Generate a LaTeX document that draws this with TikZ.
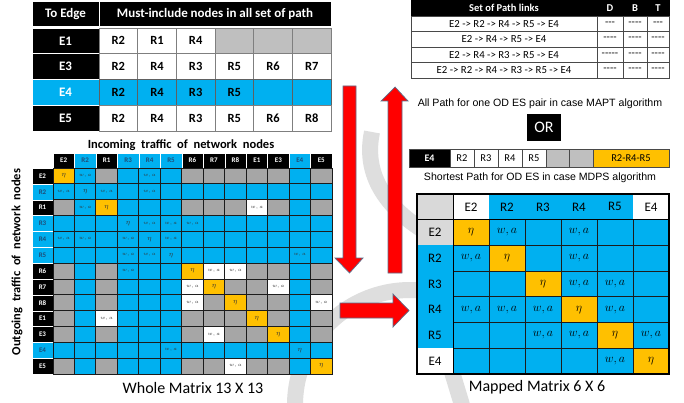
\documentclass[tikz,border=0pt]{standalone}
\usepackage{fontspec}
\setmainfont{Carlito}
\newfontfamily\arialf{Liberation Sans}
\definecolor{cblue}{HTML}{00B0F0}
\definecolor{cyel}{HTML}{FFC000}
\definecolor{cgray}{HTML}{A6A6A6}
\definecolor{lgray}{HTML}{BFBFBF}
\definecolor{pgray}{HTML}{D9D9D9}
\definecolor{wmark}{HTML}{DEDEDE}
\definecolor{gridc}{HTML}{1C1C1C}
\definecolor{hblue}{HTML}{1F4E79}
\definecolor{arrowedge}{HTML}{5B6F8C}
\definecolor{tline}{HTML}{7F7F7F}
\newcommand\setfs[1]{\fontsize{#1}{#1}\selectfont}
% cell contents of the 13 x 13 matrix, by code letter
\newcommand\wtg{}
\newcommand\wtb{}
\newcommand\wty{\setfs{7}$\eta$}
\newcommand\wte{\setfs{7}$\eta$}
\newcommand\wtW{$w, a$}
\newcommand\wtB{$w, a$}
% cell contents of the 6 x 6 matrix
\newcommand\mtb{}
\newcommand\mty{\setfs{13}$\eta$}
\newcommand\mtB{$w, a$}
\tikzset{
  boxbase/.style={rectangle, inner sep=0pt, outer sep=0pt},
  tlhead/.style={boxbase, fill=black, text=white, font=\bfseries\setfs{13}, draw=white, line width=0.8pt, minimum height=25.75pt},
  tlcell/.style={boxbase, draw=tline, line width=0.7pt, minimum width=38.67pt, minimum height=25.75pt, font=\bfseries\setfs{12.5}},
  wcell/.style={boxbase, draw=gridc, line width=0.9pt, minimum width=21.46pt, minimum height=15.85pt, font=\setfs{4.6}, text=black!80},
  wg/.style={fill=cgray}, wb/.style={fill=cblue}, wy/.style={fill=cyel},
  we/.style={fill=cblue}, wW/.style={fill=white}, wB/.style={fill=cblue},
  whead/.style={boxbase, font=\bfseries\setfs{7}, draw=white, line width=0.3pt},
  whk/.style={fill=black, text=white}, whu/.style={fill=cblue, text=hblue},
  rtcell/.style={boxbase, draw=gridc!80, line width=0.6pt, minimum height=15.5pt, font=\setfs{10.8}},
  rthead/.style={boxbase, fill=black, text=white, draw=black, minimum height=16pt, font=\bfseries\setfs{10.5}},
  barcell/.style={boxbase, draw=gridc!80, line width=0.6pt, minimum height=18pt, font=\setfs{10.5}},
  mcell/.style={boxbase, draw=gridc, line width=0.9pt, minimum width=36pt, minimum height=25.71pt, fill=cblue, font=\setfs{11.5}},
  mb/.style={}, my/.style={fill=cyel}, mB/.style={},
  mlab/.style={boxbase, minimum width=36pt, minimum height=25.71pt, font=\setfs{13}},
  capt/.style={inner sep=0pt, font=\arialf\setfs{10.6}},
  bigcapt/.style={inner sep=0pt, font=\setfs{16}},
  blockarrow/.style={fill=red, draw=arrowedge, line width=0.7pt, line join=miter},
  wmstroke/.style={draw=wmark, line width=16pt}
}
\begin{document}
\begin{tikzpicture}[x=1pt,y=-1pt]
\useasboundingbox (0,0) rectangle (684,403);
\fill[white] (0,0) rectangle (684,403);

% faint background emblem
\draw[wmstroke] (295,405) arc[start angle=180, end angle=275, radius=115];
\draw[wmstroke] (372,132) .. controls (362,180) and (392,215) .. (440,240);
\draw[wmstroke] (452,372) -- (462,405);

% ---------- table: edges and their must-include nodes ----------
\node[tlhead, minimum width=67pt] (th-edge) at (65.5,14) {To Edge};
\node[tlhead, minimum width=232pt] (th-must) at (215,14) {Must-include nodes in all set of path};
\node[tlhead, minimum width=67pt] (tl-r1) at (65.5,40.875) {E1};
\node[tlhead, minimum width=67pt] (tl-r2) at (65.5,66.625) {E3};
\node[tlhead, minimum width=67pt, fill=cblue] (tl-r3) at (65.5,92.375) {E4};
\node[tlhead, minimum width=67pt] (tl-r4) at (65.5,118.125) {E5};
\foreach \f/\t [count=\j] in {white/R2,white/R1,white/R4,lgray/{},lgray/{},lgray/{}}
  \node[tlcell, fill=\f] (tl-1-\j) at ({99+38.67*(\j-0.5)},40.875) {\t};
\foreach \f/\t [count=\j] in {white/R2,white/R4,white/R3,white/R5,white/R6,white/R7}
  \node[tlcell, fill=\f] (tl-2-\j) at ({99+38.67*(\j-0.5)},66.625) {\t};
\foreach \f/\t [count=\j] in {cblue/R2,cblue/R4,cblue/R3,cblue/R5,cblue/{},cblue/{}}
  \node[tlcell, fill=\f, draw=gridc!70] (tl-3-\j) at ({99+38.67*(\j-0.5)},92.375) {\t};
\foreach \f/\t [count=\j] in {white/R2,white/R4,white/R3,white/R5,white/R6,white/R8}
  \node[tlcell, fill=\f] (tl-4-\j) at ({99+38.67*(\j-0.5)},118.125) {\t};

% ---------- whole 13 x 13 matrix ----------
\node[font=\bfseries\setfs{12.5}, inner sep=0pt] (intitle) at (181,145) {Incoming~ traffic~ of~ network~ nodes};
\node[font=\bfseries\setfs{12.5}, inner sep=0pt, rotate=90] (outtitle) at (17,262) {Outgoing~ traffic~ of~ network~ nodes};
\foreach \lab/\hc [count=\j] in {E2/k,R2/u,R1/k,R3/u,R4/u,R5/u,R6/k,R7/k,R8/k,E1/k,E3/k,E4/u,E5/k} {
  \node[whead, wh\hc, minimum width=21.46pt, minimum height=15pt] (wc-\j) at ({53+21.46*(\j-0.5)},160.5) {\lab};
  \node[whead, wh\hc, minimum width=21pt, minimum height=15.85pt] (wr-\j) at (42.5,{168+15.85*(\j-0.5)}) {\lab};
}
\foreach \row [count=\i] in {%
{y,B,g,b,B,b,g,g,g,g,g,b,g},%
{B,e,B,b,B,b,b,b,b,b,b,b,b},%
{g,B,y,b,b,b,g,g,g,W,g,b,g},%
{b,b,b,e,B,B,B,b,b,b,b,b,b},%
{B,B,b,B,e,B,b,b,b,b,b,b,b},%
{b,b,b,B,B,e,b,b,b,b,b,B,b},%
{g,b,g,B,b,b,y,W,W,g,g,b,g},%
{g,b,g,b,b,b,W,y,g,g,W,b,g},%
{g,b,g,b,b,b,W,g,y,g,g,b,W},%
{g,b,W,b,b,b,g,g,g,y,g,b,g},%
{g,b,g,b,b,b,g,W,g,g,y,b,g},%
{b,b,b,b,b,B,b,b,b,b,b,e,b},%
{g,b,g,b,b,b,g,g,W,g,g,b,y}%
} {
  \foreach \c [count=\j] in \row {
    \node[wcell, w\c] (wm-\i-\j) at ({53+21.46*(\j-0.5)},{168+15.85*(\i-0.5)}) {\csname wt\c\endcsname};
  }
}
\node[bigcapt] (wholecap) at (193,388) {Whole Matrix 13 X 13};

% ---------- path table (MAPT) ----------
\node[rthead, minimum width=186pt] (rt-h1) at (504,8) {Set of Path links};
\node[rthead, minimum width=26pt] (rt-h2) at (610,8) {D};
\node[rthead, minimum width=24pt] (rt-h3) at (635,8) {B};
\node[rthead, minimum width=22pt] (rt-h4) at (658,8) {T};
\foreach \p/\d/\b/\t [count=\i] in {%
E2 -> R2 -> R4 -> R5 -> E4/{-}{-}{-}/{-}{-}{-}{-}/{-}{-}{-},%
E2 -> R4 -> R5 -> E4/{-}{-}{-}{-}/{-}{-}{-}{-}/{-}{-}{-}{-},%
E2 -> R4 -> R3 -> R5 -> E4/{-}{-}{-}{-}{-}/{-}{-}{-}{-}/{-}{-}{-}{-},%
E2 -> R2 -> R4 -> R3 -> R5 -> E4/{-}{-}{-}{-}/{-}{-}{-}{-}/{-}{-}{-}{-}%
} {
  \node[rtcell, minimum width=186pt] (rt-\i-1) at (504,{16+15.5*(\i-0.5)}) {\p};
  \node[rtcell, minimum width=26pt] (rt-\i-2) at (610,{16+15.5*(\i-0.5)}) {\d};
  \node[rtcell, minimum width=24pt] (rt-\i-3) at (635,{16+15.5*(\i-0.5)}) {\b};
  \node[rtcell, minimum width=22pt] (rt-\i-4) at (658,{16+15.5*(\i-0.5)}) {\t};
}
\node[capt] (maptcap) at (540,104) {All Path for one OD ES pair in case MAPT algorithm};
\node[boxbase, fill=black, text=white, minimum width=34pt, minimum height=27pt, font=\setfs{16}] (orbox) at (544,127.5) {OR};

% ---------- shortest path bar (MDPS) ----------
\node[barcell, fill=black, text=white, minimum width=41pt, font=\bfseries\setfs{10}] (bar-1) at (429.5,158) {E4};
\node[barcell, fill=white, minimum width=24pt] (bar-2) at (462,158) {R2};
\node[barcell, fill=white, minimum width=24pt] (bar-3) at (486,158) {R3};
\node[barcell, fill=white, minimum width=24pt] (bar-4) at (510,158) {R4};
\node[barcell, fill=white, minimum width=24pt] (bar-5) at (534,158) {R5};
\node[barcell, fill=lgray, minimum width=23pt] (bar-6) at (557.5,158) {};
\node[barcell, fill=lgray, minimum width=24pt] (bar-7) at (581,158) {};
\node[barcell, fill=cyel, minimum width=76pt] (bar-8) at (631,158) {R2-R4-R5};
\node[capt] (mdpscap) at (540,178) {Shortest Path for OD ES in case MDPS algorithm};

% ---------- mapped 6 x 6 matrix ----------
\node[mlab, fill=pgray] (mp-corner) at (435,206.86) {};
\foreach \lab/\f [count=\j] in {E2/white,R2/cblue,R3/cblue,R4/cblue,R5/cblue,E4/white} {
  \node[mlab, fill=\f] (mc-\j) at ({453+36*(\j-0.5)},206.86) {\lab};
}
\foreach \lab/\f [count=\i] in {E2/pgray,R2/cblue,R3/cblue,R4/cblue,R5/cblue,E4/white} {
  \node[mlab, fill=\f] (mr-\i) at (435,{219.71+25.71*(\i-0.5)}) {\lab};
}
\foreach \row [count=\i] in {%
{y,B,b,B,b,b},%
{B,y,b,B,b,b},%
{b,b,y,B,B,b},%
{B,B,B,y,B,b},%
{b,b,B,B,y,B},%
{b,b,b,b,B,y}%
} {
  \foreach \c [count=\j] in \row {
    \node[mcell, m\c] (mm-\i-\j) at ({453+36*(\j-0.5)},{219.71+25.71*(\i-0.5)}) {\csname mt\c\endcsname};
  }
}
\draw[black, line width=1pt] (mp-corner.north east) -- (mr-6.south east);
\draw[black, line width=1pt] (mp-corner.south west) -- (mc-6.south east);
\draw[black, line width=1.2pt] (mp-corner.north west) rectangle (mm-6-6.south east);
\node[bigcapt] (mappedcap) at (537,387) {Mapped Matrix 6 X 6};

% ---------- block arrows ----------
\draw[blockarrow] (343,86) -- (356,86) -- (356,258) -- (363,258) -- (349.5,273) -- (335,258) -- (343,258) -- cycle;
\draw[blockarrow] (388,273) -- (402,273) -- (402,101) -- (408,101) -- (395,87) -- (381,101) -- (388,101) -- cycle;
\draw[blockarrow] (340,303) -- (393,303) -- (393,294) -- (409,310.5) -- (393,327) -- (393,318) -- (340,318) -- cycle;
\end{tikzpicture}
\end{document}
